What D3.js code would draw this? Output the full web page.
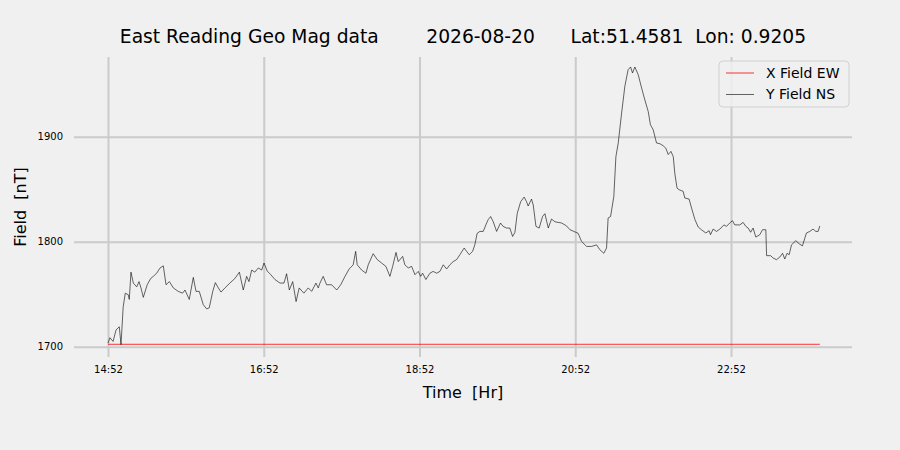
<!doctype html>
<html>
	<head>
		<style>
			body{
				margin: 0;
				background: #f0f0f0;
			}
			#chart text{
				font-family: "DejaVu Sans", sans-serif;
				fill: #000;
			}
			#chart .grid line{
				stroke: #cbcbcb;
				stroke-width: 2;
			}
			#chart .domain{
				display: none;
			}
		</style>
	</head>
	<body>
		<svg id=chart></svg>

		<script src="https://d3js.org/d3.v7.min.js"></script>
		<script>
			var title = "East Reading Geo Mag data        2026-08-20      Lat:51.4581  Lon: 0.9205";
			var startTime = "2026-08-20 14:52";
			var tickLabels = ["14:52", "16:52", "18:52", "20:52", "22:52"];
			var yTicks = [1700, 1800, 1900];
			var yLimits = [1690.2, 1975.9];
			var xLimits = [-26.2, 573.2]; // minutes after start

			// minutes after 14:52
			var yMinutes = [0, 1.5, 3.9, 6.2, 8.7, 10.0, 11.7, 13.3, 15.6, 16.4,
				17.7, 19.5, 22.1, 23.9, 25.4, 27.2, 30.2, 32.9, 34.9, 37.5,
				40.1, 42.6, 44.7, 47.3, 50.3, 54.1, 57.5, 59.3, 62.6, 65.7,
				67.8, 70.3, 73.4, 76.0, 78.0, 80.7, 82.7, 85.0, 87.1, 90.1,
				93.9, 97.8, 101.2, 104.2, 106.8, 108.6, 110.7, 113.1, 115.8, 118.4,
				120.2, 122.7, 125.4, 128.6, 132.5, 135.6, 137.6, 139.7, 142.3, 144.9,
				147.3, 150.9, 154.3, 156.9, 160.2, 162.0, 163.3, 165.8, 168.4, 172.3,
				176.2, 179.3, 182.6, 185.8, 188.9, 190.8, 192.0, 195.4, 198.7, 200.5,
				204.3, 207.4, 210.8, 214.1, 217.2, 219.3, 221.9, 223.6, 227.0, 228.7,
				231.3, 233.9, 236.5, 239.0, 240.9, 242.4, 244.9, 248.0, 250.5, 253.2,
				255.7, 258.3, 260.9, 263.4, 265.9, 268.6, 271.1, 274.4, 276.3, 278.3,
				280.9, 282.6, 284.4, 286.5, 289.1, 291.1, 292.9, 294.8, 296.8, 299.4,
				302.4, 304.4, 307.1, 309.6, 311.7, 313.5, 315.3, 317.9, 320.6, 322.5,
				323.7, 326.3, 327.6, 329.7, 332.2, 334.8, 336.6, 339.2, 341.7, 344.3,
				346.8, 349.5, 353.3, 355.9, 358.9, 362.2, 364.8, 368.7, 372.6, 376.4,
				378.9, 382.0, 384.1, 385.3, 387.2, 389.7, 391.3, 393.1, 395.7, 398.2,
				400.7, 402.6, 404.1, 405.9, 408.5, 411.1, 413.6, 416.2, 417.9, 420.0,
				422.6, 425.2, 427.7, 429.8, 431.6, 433.7, 435.5, 436.7, 438.4, 440.0,
				443.1, 444.4, 447.7, 449.6, 452.2, 454.7, 457.2, 460.6, 463.1, 464.2,
				466.2, 468.9, 471.4, 474.5, 476.5, 479.0, 481.1, 482.9, 486.8, 489.3,
				491.4, 493.2, 495.1, 497.0, 499.1, 502.2, 504.3, 506.8, 507.4, 510.5,
				512.5, 515.0, 517.6, 519.7, 521.4, 523.2, 524.8, 526.6, 529.9, 532.5,
				535.0, 538.1, 540.7, 543.2, 545.3, 547.1, 548.4];
			var yField = [1703.5, 1708.6, 1705, 1716, 1719, 1702, 1738, 1751, 1749.5, 1745,
				1771, 1760.6, 1757, 1762, 1756, 1747, 1759, 1765, 1767, 1770,
				1775, 1777, 1759, 1762, 1756, 1752.7, 1751, 1754, 1745, 1766,
				1752.7, 1752.7, 1740, 1736, 1737, 1752.7, 1761, 1756, 1752, 1756,
				1760.6, 1765, 1771, 1754, 1767, 1762, 1773, 1771, 1775, 1773,
				1779.7, 1772, 1768.6, 1764, 1760.6, 1760.6, 1769.5, 1754, 1762, 1743,
				1756, 1751, 1756, 1752.7, 1760.6, 1756, 1760.6, 1767, 1759, 1759,
				1754, 1759, 1767, 1774, 1778, 1790.8, 1778, 1773, 1770, 1778,
				1788.6, 1783, 1779.7, 1776.5, 1767, 1776.5, 1789.8, 1781, 1786, 1778,
				1775, 1776.5, 1768.6, 1771.7, 1767, 1770, 1764, 1770, 1771.7, 1770,
				1771.7, 1778, 1774, 1778, 1781, 1783, 1787.6, 1794, 1790.8, 1787.6,
				1790.8, 1797, 1808, 1809.8, 1809.8, 1816, 1821, 1824, 1819, 1809.8,
				1817.8, 1814.6, 1813, 1813, 1805, 1808.9, 1827, 1838, 1842.5, 1838,
				1834, 1840.6, 1835, 1814.6, 1813, 1824, 1826.7, 1813, 1821.6, 1819,
				1818.4, 1817.8, 1815, 1811.4, 1809.8, 1808, 1800.3, 1795.5, 1795.5, 1797,
				1792.4, 1789, 1794, 1822.6, 1824, 1843, 1881, 1894, 1922.5, 1948,
				1963.8, 1966.4, 1960.7, 1966.4, 1959, 1946.4, 1935, 1924, 1911.4, 1906.7,
				1894, 1893.3, 1891.4, 1889, 1883, 1886, 1881, 1865, 1851, 1849.5,
				1848, 1841.6, 1840.6, 1832, 1821, 1814, 1811.4, 1808.3, 1810.5, 1806.7,
				1812, 1809.8, 1812, 1816, 1814.6, 1817.8, 1820, 1816, 1816, 1818.4,
				1814.6, 1813, 1809, 1813, 1804.4, 1806.7, 1811.4, 1811.4, 1786.7, 1786.7,
				1784.4, 1782.9, 1785.4, 1789, 1783.5, 1789, 1787.6, 1797, 1801, 1798,
				1796, 1808.3, 1809.8, 1812, 1809.8, 1809.8, 1815];

			var xMinutes = [0, 548.4];
			var xField = [1702.3, 1702.3];

			var width = 900, height = 450,
				plotLeft = 74, plotRight = 852, plotTop = 57, plotBottom = 357;

			var parse = d3.timeParse("%Y-%m-%d %H:%M");
			var t0 = parse(startTime);
			function toDate(m) { return new Date(t0.getTime() + m * 60000); }

			var yData = yMinutes.map(function(m, i) { return {t: toDate(m), v: yField[i]}; });
			var xData = xMinutes.map(function(m, i) { return {t: toDate(m), v: xField[i]}; });

			var x = d3.scaleTime()
				.domain(xLimits.map(toDate))
				.range([plotLeft, plotRight]);
			var y = d3.scaleLinear()
				.domain(yLimits)
				.range([plotBottom, plotTop]);

			var tickDates = tickLabels.map(function(s) { return parse("2026-08-20 " + s); });

			var chart = d3.select("#chart")
				.attr("width", width)
				.attr("height", height);

			chart.append("g")
				.attr("class", "grid")
				.attr("transform", "translate(0," + plotBottom + ")")
				.call(d3.axisBottom(x).tickValues(tickDates).tickSize(-(plotBottom - plotTop)).tickFormat(""));
			chart.append("g")
				.attr("class", "grid")
				.attr("transform", "translate(" + plotLeft + ",0)")
				.call(d3.axisLeft(y).tickValues(yTicks).tickSize(-(plotRight - plotLeft)).tickFormat(""));

			chart.append("g")
				.attr("transform", "translate(0," + plotBottom + ")")
				.call(d3.axisBottom(x).tickValues(tickDates).tickSize(0).tickPadding(0).tickFormat(function(d, i) { return tickLabels[i]; }))
				.call(function(g) { g.selectAll("text").attr("font-size", 10).attr("dy", 16); });
			chart.append("g")
				.attr("transform", "translate(63,0)")
				.call(d3.axisLeft(y).tickValues(yTicks).tickSize(0).tickPadding(0).tickFormat(d3.format("d")))
				.call(function(g) { g.selectAll("text").attr("font-size", 10); });

			var line = d3.line()
				.x(function(d) { return x(d.t); })
				.y(function(d) { return y(d.v); });

			chart.append("path")
				.datum(xData)
				.attr("fill", "none")
				.attr("stroke", "#ff0000")
				.attr("stroke-width", 0.8)
				.attr("d", line);
			chart.append("path")
				.datum(yData)
				.attr("fill", "none")
				.attr("stroke", "#000")
				.attr("stroke-width", 0.6)
				.attr("d", line);

			chart.append("text")
				.attr("x", (plotLeft + plotRight) / 2)
				.attr("y", 43)
				.attr("text-anchor", "middle")
				.attr("font-size", 18.7)
				.style("white-space", "pre")
				.text(title);
			chart.append("text")
				.attr("x", (plotLeft + plotRight) / 2)
				.attr("y", 398)
				.attr("text-anchor", "middle")
				.attr("font-size", 16)
				.style("white-space", "pre")
				.text("Time  [Hr]");
			chart.append("text")
				.attr("transform", "translate(26," + (plotTop + plotBottom) / 2 + ") rotate(-90)")
				.attr("text-anchor", "middle")
				.attr("font-size", 16)
				.style("white-space", "pre")
				.text("Field  [nT]");

			var legend = chart.append("g").attr("transform", "translate(719,61)");
			legend.append("rect")
				.attr("width", 130)
				.attr("height", 46)
				.attr("rx", 4)
				.attr("fill", "#f0f0f0")
				.attr("fill-opacity", 0.85)
				.attr("stroke", "#d0d0d0")
				.attr("stroke-width", 1);
			var items = legend.selectAll(".item")
				.data([{name: "X Field EW", color: "#ff0000"}, {name: "Y Field NS", color: "#000"}])
				.enter().append("g")
					.attr("transform", function(d, i) { return "translate(0," + (12 + i * 21.5) + ")"; });
			items.append("line")
				.attr("x1", 7).attr("x2", 35)
				.attr("stroke", function(d) { return d.color; })
				.attr("stroke-width", function(d, i) { return i ? 0.6 : 0.8; });
			items.append("text")
				.attr("x", 47)
				.attr("dy", "0.35em")
				.attr("font-size", 14)
				.text(function(d) { return d.name; });
		</script>
	</body>
</html>
